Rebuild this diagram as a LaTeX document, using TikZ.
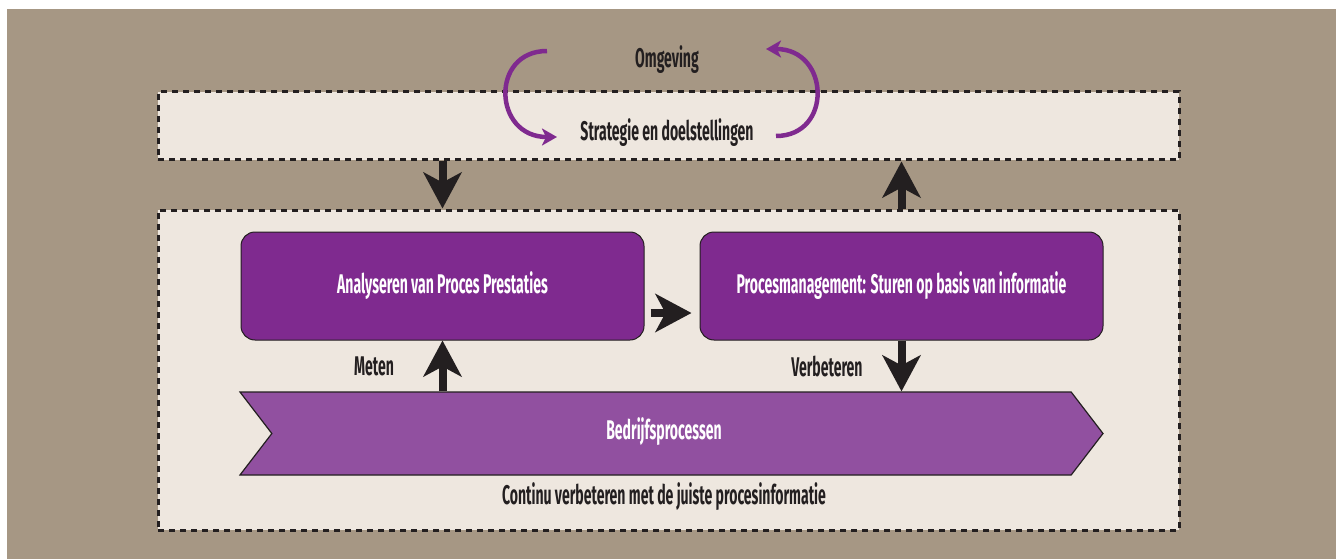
\documentclass[tikz,border=0pt]{standalone}
\usepackage{fontspec}
\newfontfamily\condfont{Fira Sans}[FakeStretch=0.52]
\usetikzlibrary{arrows.meta,shapes.symbols,positioning}
\definecolor{bgbrown}{HTML}{A69784}
\definecolor{panel}{HTML}{EEE7DF}
\definecolor{procpurple}{HTML}{7F2A8F}
\definecolor{bannerpurple}{HTML}{9150A0}
\definecolor{ink}{HTML}{231F20}
\tikzset{
  txt/.style={font=\condfont\bfseries\fontsize{27}{30}\selectfont,text=ink,inner sep=0pt},
  panelbox/.style={draw=ink,fill=panel,line width=3pt,dash pattern=on 6pt off 5pt,inner sep=0pt},
  procbox/.style={draw=ink,fill=procpurple,line width=1pt,rounded corners=14pt,minimum width=403pt,minimum height=108pt,txt,text=white},
  fatarrow/.style={draw=ink,line width=8pt,-{Stealth[length=36pt,width=38pt,inset=10pt]}},
  cyclearrow/.style={draw=procpurple,line width=4.5pt,-{Stealth[length=15pt,width=17pt,inset=4pt]}}
}
\begin{document}
\begin{tikzpicture}[x=1pt,y=-1pt]
  \useasboundingbox (0,0) rectangle (1336,559);
  \fill[white] (0,0) rectangle (1336,559); \fill[bgbrown] (7,9) rectangle (1336,559);
  % panels
  \node[panelbox,minimum width=1021pt,minimum height=68pt] (strat) at (668.5,126) {};
  \node[panelbox,minimum width=1021pt,minimum height=320pt] (main) at (668.5,370) {};
  \node[txt] (omg) at (667,60) {Omgeving};
  \node[txt] (doel) at (667,133) {Strategie en doelstellingen};
  \draw[cyclearrow] (547,51) .. controls (490,51) and (493,137) .. (557,137);
  \draw[cyclearrow] (776,136) .. controls (833,136) and (830,49) .. (766,49);
  % process boxes
  \node[procbox] (analyse) at (442.5,286) {Analyseren van Proces Prestaties};
  \node[procbox] (procm) at (901.5,286) {Procesmanagement: Sturen op basis van informatie};
  \node[signal,signal from=west,signal to=east,signal pointer angle=105,draw=ink,fill=bannerpurple,line width=1.2pt,
    minimum width=863pt,minimum height=83pt] (proc) at (671.5,433.5) {};
  \node[txt,text=white] (proctxt) at (664,432) {Bedrijfsprocessen};
  \node[txt] (meten) at (374,366) {Meten};
  \node[txt] (verb) at (827,366) {Verbeteren};
  \node[txt] (cont) at (664,497) {Continu verbeteren met de juiste procesinformatie};
  % arrows
  \draw[fatarrow] (strat.south -| analyse.north) -- (main.north -| analyse.north);
  \draw[fatarrow] (main.north -| procm.south) -- (strat.south -| procm.south);
  \draw[fatarrow] ([xshift=6pt,yshift=-27pt]analyse.east) -- ([xshift=-8pt,yshift=-27pt]procm.west);
  \draw[fatarrow] (proc.north -| analyse.south) -- (analyse.south);
  \draw[fatarrow] (procm.south) -- (proc.north -| procm.south);
\end{tikzpicture}
\end{document}
